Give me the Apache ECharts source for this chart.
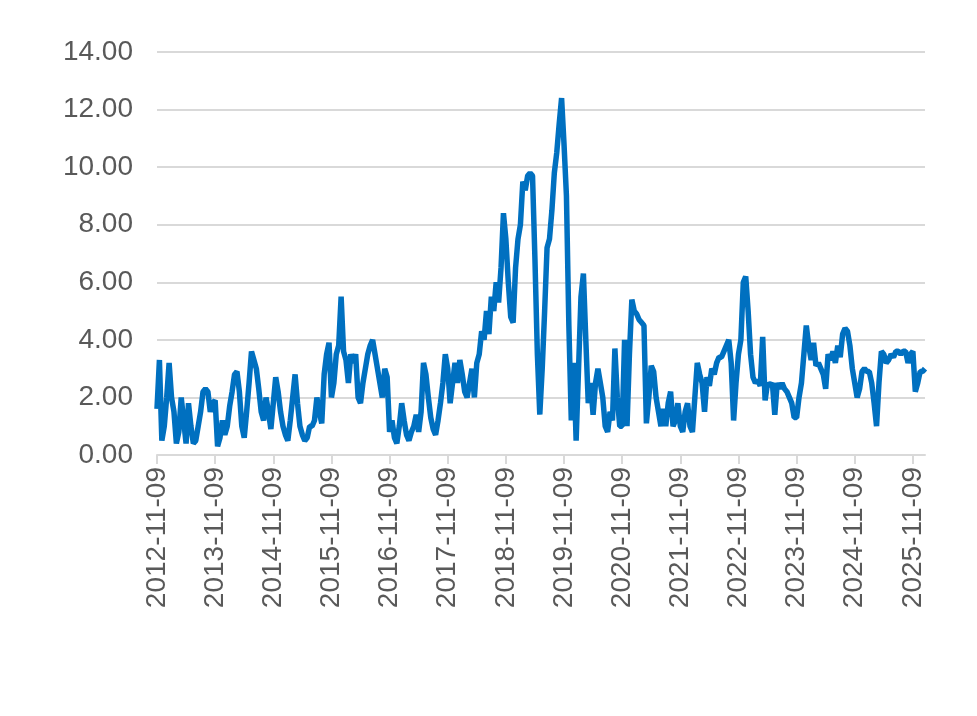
<!DOCTYPE html>
<html>
<head>
<meta charset="utf-8">
<script src="https://cdn.jsdelivr.net/npm/echarts@6/dist/echarts.min.js"></script>
<style>html,body{margin:0;padding:0;background:#fff}#main{width:977px;height:716px}</style>
</head>
<body>
<div id="main"></div>
<script>
// 半月一个点，从2012-11-09开始
var startYear = 2012, startMonth = 11;
var yTicks = [0, 2, 4, 6, 8, 10, 12, 14];
var v2012 = [1.6,3.3,0.5,1.0,2.0,3.2,2.0,1.5,0.4,0.8,2.0,1.2,0.4,1.8,1.0,0.4,0.5,1.0,1.5,2.2,2.3,2.2,1.5,1.8];
var v2013 = [1.9,0.3,0.6,1.2,0.7,1.0,1.7,2.2,2.8,2.9,2.2,1.0,0.6,1.5,2.5,3.6,3.3,3.0,2.3,1.5,1.2,2.0,1.5,0.9];
var v2014 = [1.8,2.7,2.2,1.5,1.0,0.7,0.5,1.2,2.0,2.8,1.8,1.0,0.7,0.5,0.6,1.0,1.0,1.2,2.0,1.5,1.1,2.8,3.5,3.9];
var v2015 = [2.0,2.5,3.5,3.8,5.5,3.6,3.3,2.5,3.5,3.2,3.5,2.0,1.8,2.5,3.0,3.5,3.8,4.0,3.5,3.0,2.5,2.0,3.0,2.7];
var v2016 = [0.8,1.2,0.6,0.4,1.0,1.8,1.2,0.7,0.5,0.8,1.0,1.4,0.8,1.5,3.2,2.8,2.0,1.3,0.9,0.7,1.2,1.8,2.5,3.5];
var v2017 = [3.0,1.8,2.5,3.2,2.5,3.3,2.8,2.2,2.0,2.5,3.0,2.0,3.2,3.5,4.3,4.0,5.0,4.2,5.5,5.0,6.0,5.3,6.5,8.4];
var v2018 = [7.5,6.0,4.8,4.6,6.5,7.5,8.0,9.5,9.2,9.7,9.8,9.7,6.8,3.5,1.4,3.0,5.0,7.2,7.5,8.5,9.8,10.5,11.5,12.4];
var v2019 = [10.8,9.0,4.5,1.2,3.2,0.5,3.0,5.5,6.3,4.0,1.8,2.5,1.4,2.5,3.0,2.5,2.0,1.0,0.8,1.5,1.2,3.7,2.0,1.0];
var v2020 = [1.0,4.0,1.0,3.5,5.4,5.0,4.9,4.7,4.6,4.5,1.1,2.0,3.1,2.9,2.0,1.5,1.0,1.6,1.0,1.8,2.2,1.0,1.2,1.8];
var v2021 = [1.0,0.8,1.5,1.8,1.0,0.8,2.0,3.2,2.8,2.5,1.5,2.7,2.4,3.0,2.8,3.2,3.4,3.4,3.6,3.8,4.0,3.2,1.2,2.5];
var v2022 = [3.5,4.0,6.0,6.2,5.0,3.5,2.7,2.5,2.6,2.4,4.1,1.9,2.5,2.4,2.5,1.4,2.5,2.3,2.5,2.3,2.2,2.0,1.8,1.3];
var v2023 = [1.3,2.0,2.5,3.5,4.5,3.8,3.3,3.9,3.1,3.2,3.0,2.8,2.3,3.5,3.3,3.6,3.2,3.8,3.4,4.2,4.4,4.3,3.8,3.0];
var v2024 = [2.5,2.0,2.3,2.9,3.0,2.9,2.9,2.5,1.8,1.0,2.5,3.6,3.5,3.2,3.3,3.5,3.4,3.6,3.6,3.5,3.6,3.6,3.2,3.5];
var v2025 = [3.6,2.2,2.5,2.9,2.9,3.0];

var values = [].concat(v2012,v2013,v2014,v2015,v2016,v2017,v2018,v2019,v2020,v2021,v2022,v2023,v2024,v2025);
var dates = [];
for (var i = 0; i < values.length; i++) {
    var m = startMonth - 1 + Math.floor(i / 2);
    var y = startYear + Math.floor(m / 12);
    var mm = ("0" + (m % 12 + 1)).slice(-2);
    dates.push(y + "-" + mm + "-" + (i % 2 ? "24" : "09"));
}

var myChart = echarts.init(document.getElementById('main'));
var option = {
    animation: false,
    grid: {left: 157, right: 52, top: 52, bottom: 261, containLabel: false},
    xAxis: {
        type: 'category',
        data: dates,
        boundaryGap: false,
        axisLine: {lineStyle: {color: '#d9d9d9', width: 2}},
        axisTick: {show: true, interval: 23, length: 9, lineStyle: {color: '#d9d9d9', width: 2}},
        axisLabel: {interval: 23, rotate: 90, fontSize: 28, color: '#595959', fontFamily: 'Liberation Sans', margin: 12}
    },
    yAxis: {
        type: 'value',
        min: yTicks[0],
        max: yTicks[yTicks.length - 1],
        interval: 2,
        axisLine: {show: false},
        axisTick: {show: false},
        splitLine: {lineStyle: {color: '#d9d9d9', width: 2}},
        axisLabel: {fontSize: 28, color: '#595959', fontFamily: 'Liberation Sans', margin: 24,
            formatter: function (v) { return v.toFixed(2); }}
    },
    series: [{
        type: 'line',
        data: values,
        showSymbol: false,
        lineStyle: {color: '#0070C0', width: 5.5},
        itemStyle: {color: '#0070C0'}
    }]
};
myChart.setOption(option);
</script>
</body>
</html>
